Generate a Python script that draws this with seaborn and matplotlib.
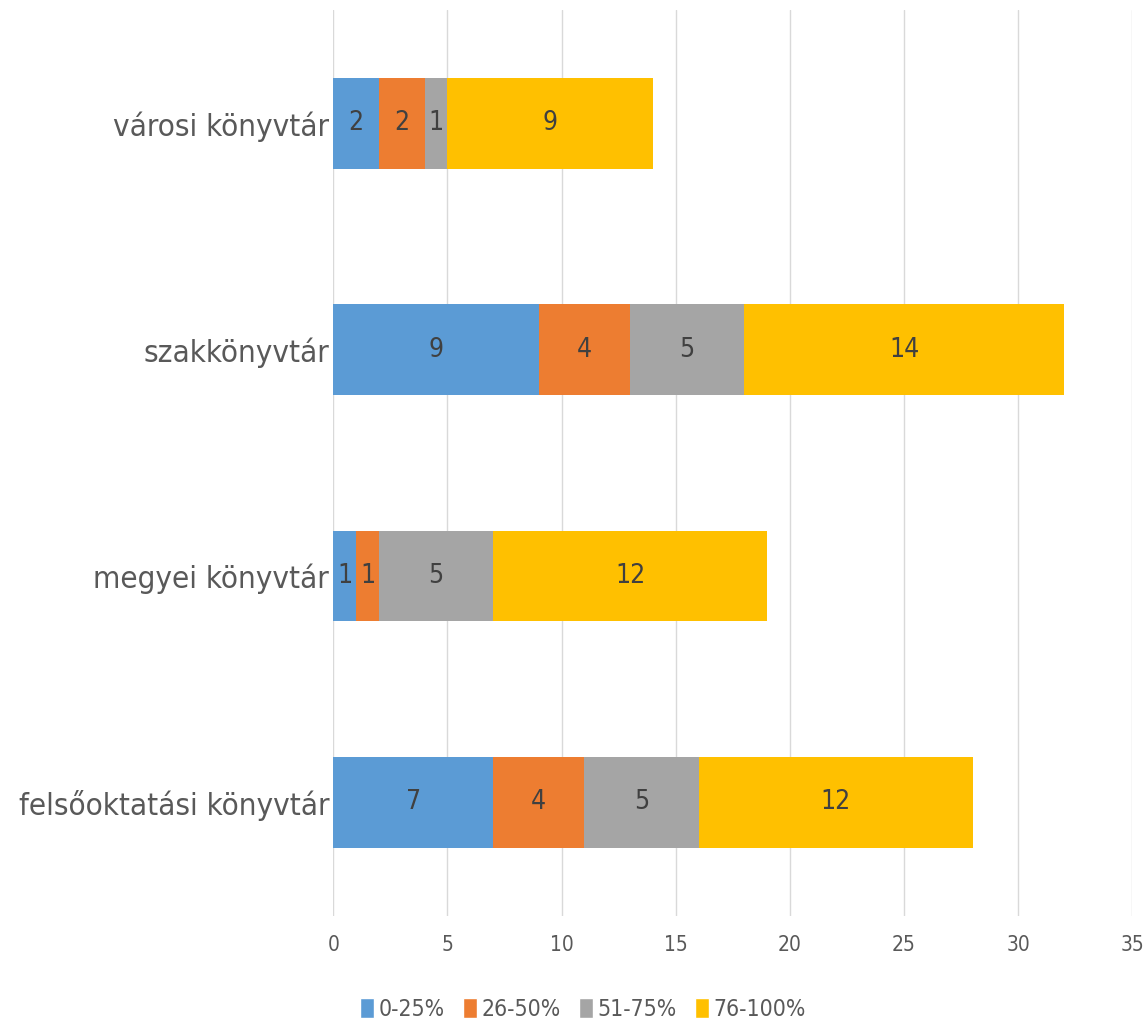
import numpy as np
import pandas as pd
import seaborn as sns
import matplotlib.pyplot as plt
from matplotlib.patches import Patch

categories = ['városi könyvtár', 'szakkönyvtár', 'megyei könyvtár', 'felsőoktatási könyvtár']
series = ['0-25%', '26-50%', '51-75%', '76-100%']
v_0_25 = [2, 9, 1, 7]
v_26_50 = [2, 4, 1, 4]
v_51_75 = [1, 5, 5, 5]
v_76_100 = [9, 14, 12, 12]
colors = ['#5b9bd5', '#ed7d31', '#a5a5a5', '#ffc000']
xticks = [0, 5, 10, 15, 20, 25, 30, 35]

sns.set_theme(style='white')
plt.rcParams['font.family'] = ['DejaVu Sans']
plt.rcParams['font.stretch'] = 'condensed'  # the original uses a narrow face

vals = np.array([v_0_25, v_26_50, v_51_75, v_76_100], dtype=float)
cum = vals.cumsum(axis=0)

fig = plt.figure(figsize=(11.45, 10.23), dpi=100)
ax = fig.add_axes([0.291, 0.105, 0.698, 0.885])

# stacked look: draw cumulative totals, largest first
for i in range(len(series) - 1, -1, -1):
    df = pd.DataFrame({'cat': categories, 'val': cum[i]})
    sns.barplot(data=df, x='val', y='cat', orient='h', color=colors[i],
                width=0.4, saturation=1, linewidth=0, ax=ax, zorder=2)

for i in range(len(series)):
    for j in range(len(categories)):
        ax.text(cum[i][j] - vals[i][j] / 2, j, f"{int(vals[i][j])}",
                ha='center', va='center', fontsize=19, color='#404040', zorder=3)

ax.set_xlim(0, 35)
ax.set_ylim(3.5, -0.5)
ax.set_xticks(xticks)
ax.set_xlabel('')
ax.set_ylabel('')
ax.grid(axis='x', color='#d9d9d9', linewidth=1, zorder=0)
ax.set_axisbelow(True)
for s in ax.spines.values():
    s.set_visible(False)
ax.tick_params(axis='x', labelsize=15, labelcolor='#595959', length=0, pad=14)
ax.tick_params(axis='y', labelsize=22.5, labelcolor='#595959', length=0, pad=3)

handles = [Patch(facecolor=c, label=s) for c, s in zip(colors, series)]
fig.legend(handles=handles, loc='lower center', ncol=4, frameon=False,
           fontsize=16.5, labelcolor='#595959', handlelength=0.6, handleheight=1.0,
           handletextpad=0.2, columnspacing=0.8, bbox_to_anchor=(0.509, -0.018))

fig.savefig('out.png', dpi=100)
